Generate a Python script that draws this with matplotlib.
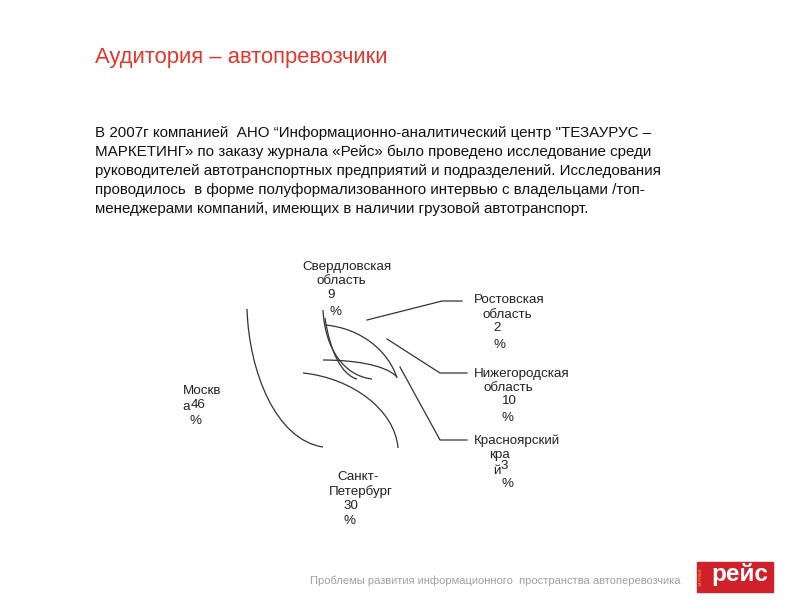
import matplotlib
matplotlib.use("Agg")
import matplotlib.pyplot as plt
from matplotlib.path import Path
from matplotlib.patches import PathPatch, Rectangle

plt.rcParams['font.family'] = ['Liberation Sans', 'DejaVu Sans']

# Данные диаграммы: регионы и доля аудитории, %
regions = ["Москва", "Санкт-Петербург", "Свердловская область",
           "Ростовская область", "Нижегородская область", "Красноярский край"]
shares = [46, 30, 9, 2, 10, 3]

# подписи так, как они разорваны на слайде
name_lines = [["Москв", "а"], ["Санкт-", "Петербург"], ["Свердловская", "область"],
              ["Ростовская", "область"], ["Нижегородская", "область"],
              ["Красноярский", "кра", "й"]]

title = "Аудитория – автопревозчики"
body = ["В 2007г компанией  АНО “Информационно-аналитический центр \"ТЕЗАУРУС –",
        "МАРКЕТИНГ» по заказу журнала «Рейс» было проведено исследование среди",
        "руководителей автотранспортных предприятий и подразделений. Исследования",
        "проводилось  в форме полуформализованного интервью с владельцами /топ-",
        "менеджерами компаний, имеющих в наличии грузовой автотранспорт."]
footer = "Проблемы развития информационного  пространства автоперевозчика"

fig = plt.figure(figsize=(8, 6), dpi=100)
ax = fig.add_axes([0, 0, 1, 1])
ax.set_xlim(0, 800)
ax.set_ylim(600, 0)
ax.axis("off")

ax.text(95, 57, title, color="#e8352a", fontsize=15.8, va="center", ha="left")
for i, line in enumerate(body):
    ax.text(95, 133 + i * 19, line, fontsize=10.9, va="center", ha="left", color="#111111")

# обрывки дуг круговой диаграммы (как на слайде)
arcs = [
    [(247, 309), (249, 372), (276, 440), (323, 447)],
    [(303, 373), (352, 378), (395, 410), (398, 448)],
    [(323, 310), (325, 350), (345, 376), (372, 379)],
    [(325, 318), (330, 352), (342, 375), (357, 379)],
    [(325, 325), (360, 328), (388, 350), (397, 378)],
    [(323, 360), (350, 360), (385, 364), (397, 377)],
]
codes = [Path.MOVETO, Path.CURVE4, Path.CURVE4, Path.CURVE4]
for pts in arcs:
    ax.add_patch(PathPatch(Path(pts, codes), fill=False, lw=0.9, color="#333333"))

# выноски
leaders = [
    [(367, 320), (442, 301), (462, 301)],
    [(387, 339), (440, 373), (467, 373)],
    [(400, 367), (440, 440), (467, 440)],
]
for ld in leaders:
    xs, ys = zip(*ld)
    ax.plot(xs, ys, color="#333333", lw=0.9)

lbl = dict(fontsize=9.6, ha="center", va="center", color="#222222")

# Москва
ax.text(202, 391, name_lines[0][0], **lbl)
ax.text(186, 407, name_lines[0][1], **lbl)
ax.text(198, 405, str(shares[0]), **lbl)
ax.text(195, 421, "%", **lbl)
# Санкт-Петербург
ax.text(358, 477, name_lines[1][0], **lbl)
ax.text(361, 492, name_lines[1][1], **lbl)
ax.text(351, 506, str(shares[1]), **lbl)
ax.text(350, 521, "%", **lbl)
# Свердловская
ax.text(347, 267, name_lines[2][0], **lbl)
ax.text(341, 281, name_lines[2][1], **lbl)
ax.text(331, 295, str(shares[2]), **lbl)
ax.text(335, 312, "%", **lbl)
# Ростовская
ax.text(509, 300, name_lines[3][0], **lbl)
ax.text(507, 315, name_lines[3][1], **lbl)
ax.text(497, 328, str(shares[3]), **lbl)
ax.text(500, 345, "%", **lbl)
# Нижегородская
ax.text(522, 374, name_lines[4][0], **lbl)
ax.text(508, 388, name_lines[4][1], **lbl)
ax.text(509, 401, str(shares[4]), **lbl)
ax.text(507, 418, "%", **lbl)
# Красноярский
ax.text(517, 441, name_lines[5][0], **lbl)
ax.text(499, 455, name_lines[5][1], **lbl)
ax.text(497, 471, name_lines[5][2], **lbl)
ax.text(504, 466, str(shares[5]), **lbl)
ax.text(507, 484, "%", **lbl)

# нижний колонтитул и логотип
ax.text(680, 581, footer, fontsize=8, color="#a0a0a0", ha="right", va="center")
ax.add_patch(Rectangle((697, 562), 76, 30, color="#d0202a"))
ax.text(740, 574, "рейс", color="white", fontsize=17.5, fontweight="bold",
        ha="center", va="center")
ax.text(701, 577, "ЗА РУЛЁМ", color="#f0c040", fontsize=2.5, rotation=90,
        ha="center", va="center")

fig.savefig("out.png", dpi=100)
